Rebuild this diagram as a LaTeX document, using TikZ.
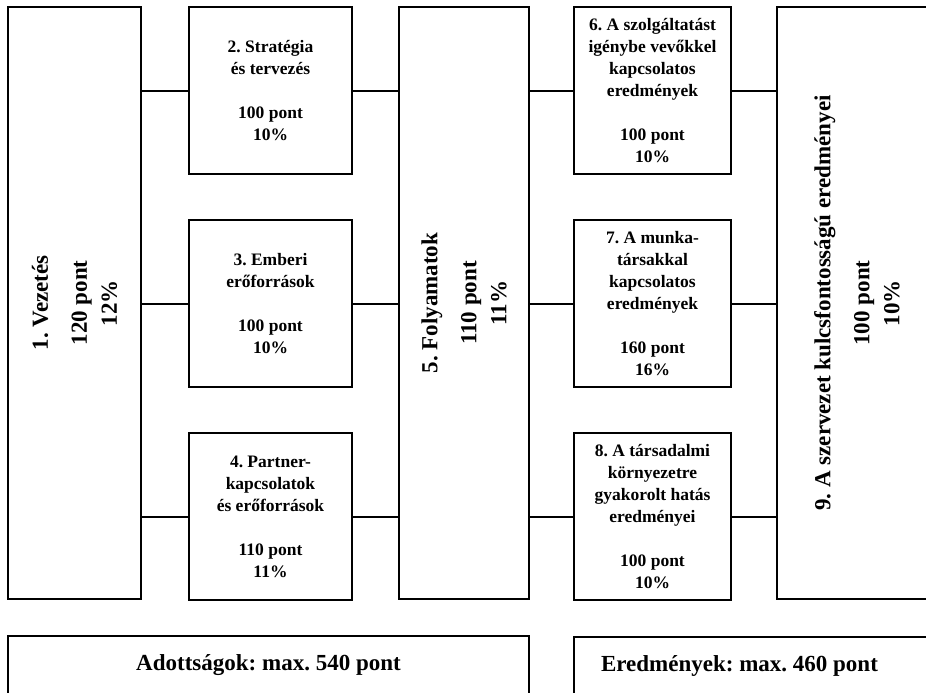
\documentclass[tikz,border=0pt]{standalone}
\usepackage{fontspec}
\setmainfont{Liberation Serif}
\usetikzlibrary{positioning}
\frenchspacing

\begin{document}
\begin{tikzpicture}[x=1pt, y=-1pt,
% Define custom styles for the boxes and texts
    mybox/.style={
        draw,
        rectangle,
        line width=2pt,
        outer sep=0pt,
        inner sep=2pt,
        align=center,
        font=\fontsize{17.5}{22}\selectfont\bfseries
        },
    mytext/.style={
        align=center,
        font=\fontsize{23}{30}\selectfont\bfseries
        },
    myline/.style={line width=2pt}
]
\useasboundingbox (0,0) rectangle (926,693);
\clip (0,0) rectangle (926,693);

\node[mybox, minimum width=133pt, minimum height=592pt, anchor=north west] (V) at (8,7) {};
\node[mytext, rotate=90] (VT) at (V.center) {1. Vezetés\\[9pt]120 pont\\12\%};

\node[mybox, minimum width=163pt, minimum height=167pt, right=48pt of V.north east, anchor=north west] (S)
    {2. Stratégia\\és tervezés\\[22pt]100 pont\\10\%};
\node[mybox, minimum width=163pt, minimum height=167pt, below=46pt of S] (E)
    {3. Emberi\\erőforrások\\[22pt]100 pont\\10\%};
\node[mybox, minimum width=163pt, minimum height=167pt, below=46pt of E] (P)
    {4. Partner-\\kapcsolatok\\és erőforrások\\[22pt]110 pont\\11\%};

\node[mybox, minimum width=130pt, minimum height=592pt, right=47pt of S.north east, anchor=north west] (F) {};
\node[mytext, rotate=90] (FT) at (F.center) {5. Folyamatok\\[9pt]110 pont\\11\%};

\node[mybox, minimum width=157pt, minimum height=167pt, right=45pt of F.north east, anchor=north west] (U)
    {6. A szolgáltatást\\igénybe vevőkkel\\kapcsolatos\\eredmények\\[22pt]100 pont\\10\%};
\node[mybox, minimum width=157pt, minimum height=167pt, below=46pt of U] (M)
    {7. A munka-\\társakkal\\kapcsolatos\\eredmények\\[22pt]160 pont\\16\%};
\node[mybox, minimum width=157pt, minimum height=167pt, below=46pt of M] (T)
    {8. A társadalmi\\környezetre\\gyakorolt hatás\\eredményei\\[22pt]100 pont\\10\%};

\node[mybox, minimum width=160pt, minimum height=592pt, right=46pt of U.north east, anchor=north west] (K) {};
\node[mytext, rotate=90] (KT) at (K.center) {9. A szervezet kulcsfontosságú eredményei\\[9pt]100 pont\\10\%};

\node[mybox, mytext, minimum width=521pt, minimum height=58pt, below=37pt of V.south west, anchor=north west] (A)
    {Adottságok: max. 540 pont};
\node[mybox, minimum width=363pt, minimum height=58pt, below=37pt of T.south west, anchor=north west] (R) {};
\node[mytext] (RT) at ([xshift=-16pt]R.center) {Eredmények: max. 460 pont};

\draw[myline] (V.east |- S.west) -- (S.west);
\draw[myline] (V.east |- E.west) -- (E.west);
\draw[myline] (V.east |- P.west) -- (P.west);

\draw[myline] (S.east) -- (F.west |- S.east);
\draw[myline] (E.east) -- (F.west |- E.east);
\draw[myline] (P.east) -- (F.west |- P.east);

\draw[myline] (F.east |- U.west) -- (U.west);
\draw[myline] (F.east |- M.west) -- (M.west);
\draw[myline] (F.east |- T.west) -- (T.west);

\draw[myline] (U.east) -- (K.west |- U.east);
\draw[myline] (M.east) -- (K.west |- M.east);
\draw[myline] (T.east) -- (K.west |- T.east);

\end{tikzpicture}
\end{document}
